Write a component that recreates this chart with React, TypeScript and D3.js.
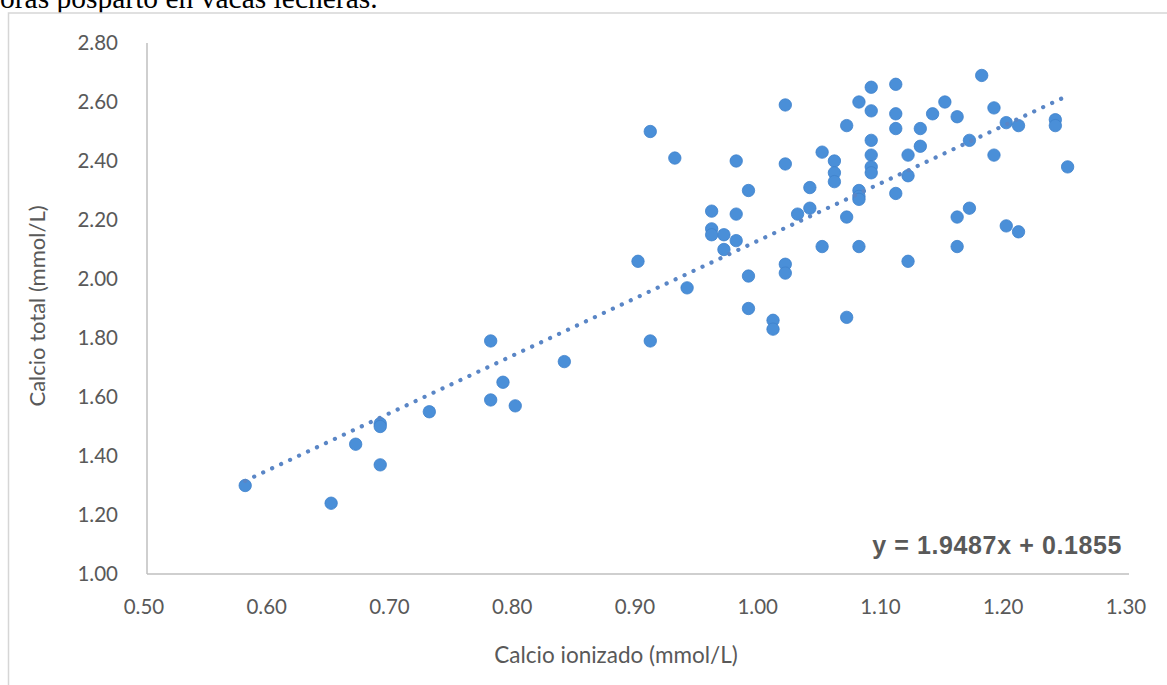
import React from "react";
import * as d3 from "d3";

// Ionized calcium (x) vs total calcium (y), mmol/L
const calcioIonizado: number[] = [
  0.58, 0.65, 0.67, 0.69, 0.69, 0.69, 0.73, 0.78, 0.78, 0.79, 0.8, 0.84,
  0.9, 0.91, 0.91, 0.93, 0.94, 0.96, 0.96, 0.96, 0.97, 0.97, 0.98, 0.98,
  0.98, 0.99, 0.99, 0.99, 1.01, 1.01, 1.02, 1.02, 1.02, 1.02, 1.03, 1.04,
  1.04, 1.05, 1.05, 1.06, 1.06, 1.06, 1.07, 1.07, 1.07, 1.08, 1.08, 1.08,
  1.08, 1.08, 1.09, 1.09, 1.09, 1.09, 1.09, 1.09, 1.11, 1.11, 1.11, 1.11,
  1.12, 1.12, 1.12, 1.13, 1.13, 1.14, 1.15, 1.16, 1.16, 1.16, 1.17, 1.17,
  1.18, 1.19, 1.19, 1.2, 1.2, 1.21, 1.21, 1.24, 1.24, 1.25,
];
const calcioTotal: number[] = [
  1.3, 1.24, 1.44, 1.51, 1.5, 1.37, 1.55, 1.79, 1.59, 1.65, 1.57, 1.72,
  2.06, 2.5, 1.79, 2.41, 1.97, 2.23, 2.17, 2.15, 2.15, 2.1, 2.4, 2.22,
  2.13, 2.3, 2.01, 1.9, 1.86, 1.83, 2.59, 2.39, 2.05, 2.02, 2.22, 2.24,
  2.31, 2.43, 2.11, 2.4, 2.36, 2.33, 2.52, 2.21, 1.87, 2.6, 2.3, 2.28,
  2.27, 2.11, 2.65, 2.57, 2.47, 2.42, 2.38, 2.36, 2.66, 2.56, 2.51, 2.29,
  2.42, 2.35, 2.06, 2.51, 2.45, 2.56, 2.6, 2.55, 2.21, 2.11, 2.47, 2.24,
  2.69, 2.58, 2.42, 2.53, 2.18, 2.52, 2.16, 2.54, 2.52, 2.38,
];

const xTicks: number[] = [0.5, 0.6, 0.7, 0.8, 0.9, 1.0, 1.1, 1.2, 1.3];
const yTicks: number[] = [1.0, 1.2, 1.4, 1.6, 1.8, 2.0, 2.2, 2.4, 2.6, 2.8];

// Linear trendline coefficients
const slope = 1.9487;
const intercept = 0.1855;

const W = 1167;
const H = 685;
const labelFont = "Lato, 'Open Sans', sans-serif";
const textGray = "#595959";
const dotBlue = "#4a8fd8";

export default function App() {
  const x = d3.scaleLinear().domain([0.5, 1.3]).range([147, 1129]);
  const y = d3.scaleLinear().domain([1.0, 2.8]).range([574, 43]);
  const fmt = d3.format(".2f");

  const points = calcioIonizado.map((v, i) => ({ x: v, y: calcioTotal[i] }));
  const [xMin, xMax] = d3.extent(calcioIonizado) as [number, number];
  const trend = d3
    .line<number>()
    .x((d) => x(d))
    .y((d) => y(slope * d + intercept))([xMin, xMax]);

  return (
    <svg
      width={W}
      height={H}
      viewBox={`0 0 ${W} ${H}`}
      style={{ position: "absolute", left: 0, top: 0, background: "#fff" }}
    >
      {/* caption line from the surrounding document */}
      <text
        x={0}
        y={8}
        fontFamily="'Liberation Serif', 'Times New Roman', serif"
        fontSize={29.5}
        fill="#000"
      >
        oras posparto en vacas lecheras.
      </text>

      {/* chart frame */}
      <rect
        x={8.5}
        y={13}
        width={1180}
        height={700}
        fill="#fff"
        stroke="#d6d6d6"
        strokeWidth={1.5}
      />

      {/* axes */}
      <line x1={x(0.5)} x2={x(0.5)} y1={y(2.8)} y2={y(1.0)} stroke="#bfbfbf" strokeWidth={1.5} />
      <line x1={x(0.5)} x2={x(1.3)} y1={y(1.0)} y2={y(1.0)} stroke="#bfbfbf" strokeWidth={1.5} />

      {yTicks.map((t) => (
        <text
          key={"y" + t}
          x={118}
          y={y(t)}
          dy="0.35em"
          textAnchor="end"
          fontFamily={labelFont}
          fontSize={20.5}
          fill={textGray}
        >
          {fmt(t)}
        </text>
      ))}
      {xTicks.map((t) => (
        <text
          key={"x" + t}
          x={x(t) - 3}
          y={614}
          textAnchor="middle"
          fontFamily={labelFont}
          fontSize={20.5}
          fill={textGray}
        >
          {fmt(t)}
        </text>
      ))}

      <text
        x={616}
        y={663}
        textAnchor="middle"
        fontFamily={labelFont}
        fontSize={22.5}
        fill={textGray}
      >
        Calcio ionizado (mmol/L)
      </text>
      <text
        transform={`translate(45, 306) rotate(-90)`}
        textAnchor="middle"
        fontFamily={labelFont}
        fontSize={22}
        fill={textGray}
      >
        Calcio total (mmol/L)
      </text>

      {/* data points */}
      {points.map((p, i) => (
        <circle
          key={i}
          cx={x(p.x)}
          cy={y(p.y)}
          r={6.2}
          fill={dotBlue}
          stroke="#3f82cc"
          strokeWidth={0.8}
        />
      ))}

      {/* dotted linear trendline */}
      <path
        d={trend ?? ""}
        fill="none"
        stroke="#5a86c6"
        strokeWidth={4.2}
        strokeLinecap="round"
        strokeDasharray="0.1 9.8"
      />

      <text
        x={1122}
        y={554}
        textAnchor="end"
        fontFamily="'Liberation Sans', Arial, sans-serif"
        fontWeight="bold"
        fontSize={25}
        letterSpacing={0.6}
        fill={textGray}
      >
        y = 1.9487x + 0.1855
      </text>
    </svg>
  );
}
